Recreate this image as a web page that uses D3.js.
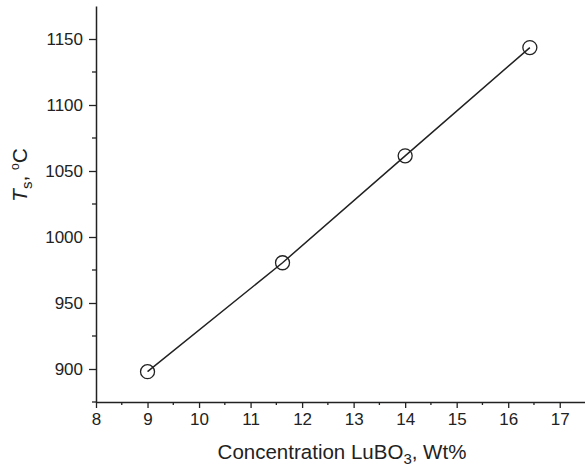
<!DOCTYPE html>
<html><head><meta charset="utf-8">
<script src="https://cdn.jsdelivr.net/npm/d3@7"></script>
<style>body{margin:0;background:#fff}svg{display:block}text{font-family:"Liberation Sans",Arial,sans-serif;fill:#222}</style>
</head><body>
<script>
const concentration = [9.0, 11.62, 14.0, 16.42];
const temperature = [898, 980.5, 1061.5, 1143.5];
const xTicks = [8, 9, 10, 11, 12, 13, 14, 15, 16, 17];
const yTicks = [900, 950, 1000, 1050, 1100, 1150];

const W = 585, H = 466;
const svg = d3.select("body").append("svg").attr("width", W).attr("height", H);
const x = d3.scaleLinear().domain([8, 17.5]).range([96, 585.5]);
const y = d3.scaleLinear().domain([875, 1175]).range([402, 6]);
const col = "#222";

const xMinor = d3.range(8.5, 17.5, 1);
const yMinor = d3.range(875, 1175, 50);
const gx = svg.append("g").attr("transform", `translate(0,${y(875)})`);
gx.call(d3.axisBottom(x).tickValues(xTicks).tickFormat(d3.format("d")).tickSize(6).tickPadding(5).tickSizeOuter(0));
gx.selectAll(".minor").data(xMinor).enter().append("line")
  .attr("x1", d => x(d)).attr("x2", d => x(d)).attr("y1", 0).attr("y2", 3)
  .attr("stroke", col).attr("stroke-width", 1.3);

const gy = svg.append("g").attr("transform", `translate(${x(8)},0)`);
gy.call(d3.axisLeft(y).tickValues(yTicks).tickFormat(d3.format("d")).tickSize(7).tickPadding(6).tickSizeOuter(0));
gy.selectAll(".minor").data(yMinor).enter().append("line")
  .attr("x1", 0).attr("x2", -4).attr("y1", d => y(d)).attr("y2", d => y(d))
  .attr("stroke", col).attr("stroke-width", 1.3);

[gx, gy].forEach(g => {
  g.selectAll("path.domain").attr("stroke", col).attr("stroke-width", 1.5);
  g.selectAll(".tick line").attr("stroke", col).attr("stroke-width", 1.3);
  g.selectAll(".tick text").attr("font-size", 17).attr("fill", col)
    .attr("font-family", "Liberation Sans, Arial, sans-serif");
});

const pts = concentration.map((c, i) => [c, temperature[i]]);
svg.append("path").datum(pts)
  .attr("d", d3.line().x(d => x(d[0])).y(d => y(d[1])))
  .attr("fill", "none").attr("stroke", col).attr("stroke-width", 1.5);
svg.selectAll("circle.pt").data(pts).enter().append("circle")
  .attr("cx", d => x(d[0])).attr("cy", d => y(d[1])).attr("r", 7)
  .attr("fill", "none").attr("stroke", col).attr("stroke-width", 1.3);

const xl = svg.append("text").attr("x", 342).attr("y", 459).attr("text-anchor", "middle").attr("font-size", 20.5);
xl.append("tspan").text("Concentration LuBO");
xl.append("tspan").attr("dy", 5).attr("font-size", 15).text("3");
xl.append("tspan").attr("dy", -5).text(", Wt%");

const yl = svg.append("text").attr("transform", "translate(27,175) rotate(-90)").attr("text-anchor", "middle").attr("font-size", 21);
yl.append("tspan").attr("font-style", "italic").text("T");
yl.append("tspan").attr("dy", 5).attr("font-size", 15).text("s");
yl.append("tspan").attr("dy", -5).attr("font-size", 21).text(",  ");
yl.append("tspan").attr("dy", -8).attr("font-size", 12).text("o");
yl.append("tspan").attr("dy", 8).attr("font-size", 21).text("C");
</script>
</body></html>
